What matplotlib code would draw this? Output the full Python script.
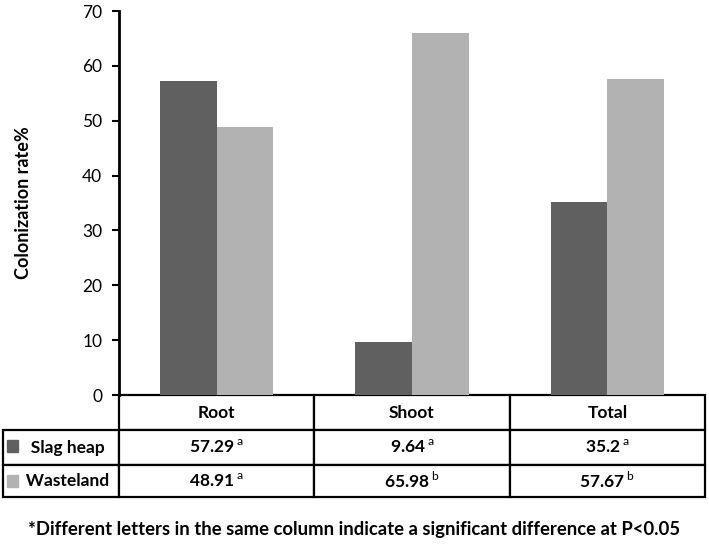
import matplotlib
matplotlib.use("Agg")
from matplotlib import pyplot as plt
from matplotlib.patches import Rectangle

plt.rcParams['font.family'] = ['Lato', 'DejaVu Sans']
plt.rcParams['mathtext.fontset'] = 'custom'
plt.rcParams['mathtext.rm'] = 'Lato'
plt.rcParams['mathtext.bf'] = 'Lato:bold'

categories = ['Root', 'Shoot', 'Total']
series_names = ['Slag heap', 'Wasteland']
slag_heap = [57.29, 9.64, 35.2]
wasteland = [48.91, 65.98, 57.67]
slag_letters = ['a', 'a', 'a']
waste_letters = ['a', 'b', 'b']
colors = ['#606060', '#b2b2b2']

fig = plt.figure(figsize=(7.09, 5.49), dpi=100)
ax = fig.add_axes([119 / 709, 154 / 549, 586 / 709, 384 / 549])

x = list(range(len(categories)))
w = 0.29
ax.bar([i - w / 2 for i in x], slag_heap, width=w, color=colors[0])
ax.bar([i + w / 2 for i in x], wasteland, width=w, color=colors[1])

ax.set_xlim(-0.5, 2.5)
ax.set_ylim(0, 70)
ax.set_yticks(range(0, 71, 10))
ax.set_xticks([])
ax.tick_params(axis='y', length=5, width=1.5, labelsize=12.5, pad=7)
for s in ['top', 'right', 'bottom']:
    ax.spines[s].set_visible(False)
ax.spines['left'].set_linewidth(2)
ax.set_ylabel('Colonization rate%', fontsize=13, fontweight='bold', labelpad=36)


def fmt(v, l):
    return r'$\mathbf{' + str(v) + r'}\,^{\mathrm{' + l + r'}}$'


# table rows: header + one row per series, first column holds the row label
table_rows = [[''] + categories]
table_rows.append(['   ' + series_names[0]] + [fmt(v, l) for v, l in zip(slag_heap, slag_letters)])
table_rows.append(['   ' + series_names[1]] + [fmt(v, l) for v, l in zip(wasteland, waste_letters)])

label_w = 116 / 586
tab = ax.table(cellText=table_rows, cellLoc='center',
               bbox=[-label_w, -102 / 384, 1 + label_w, 102 / 384])
tab.auto_set_font_size(False)
heights = {0: 35, 1: 35, 2: 32}
for (r, c), cell in tab.get_celld().items():
    cell.set_linewidth(1.6)
    cell.set_edgecolor('black')
    cell.set_height(heights[r])
    cell.set_width(116 if c == 0 else 195.3)
    cell.get_text().set_fontsize(12.5)
    cell.get_text().set_fontweight('bold')
    if c == 0:
        cell._loc = 'left'
        cell.PAD = 0.01
        if r == 0:
            cell.visible_edges = ''

# legend keys in the row label cells
for k, col in enumerate(colors):
    yc = 549 - (446 if k == 0 else 481)
    fig.patches.append(Rectangle((7 / 709, (yc - 6) / 549), 11 / 709, 12 / 549,
                                 transform=fig.transFigure, color=col))

fig.text(0.5, 1 - 530 / 549,
         '*Different letters in the same column indicate a significant difference at P<0.05',
         ha='center', va='center', fontsize=13.3, fontweight='bold')

fig.savefig('out.png', dpi=100)
